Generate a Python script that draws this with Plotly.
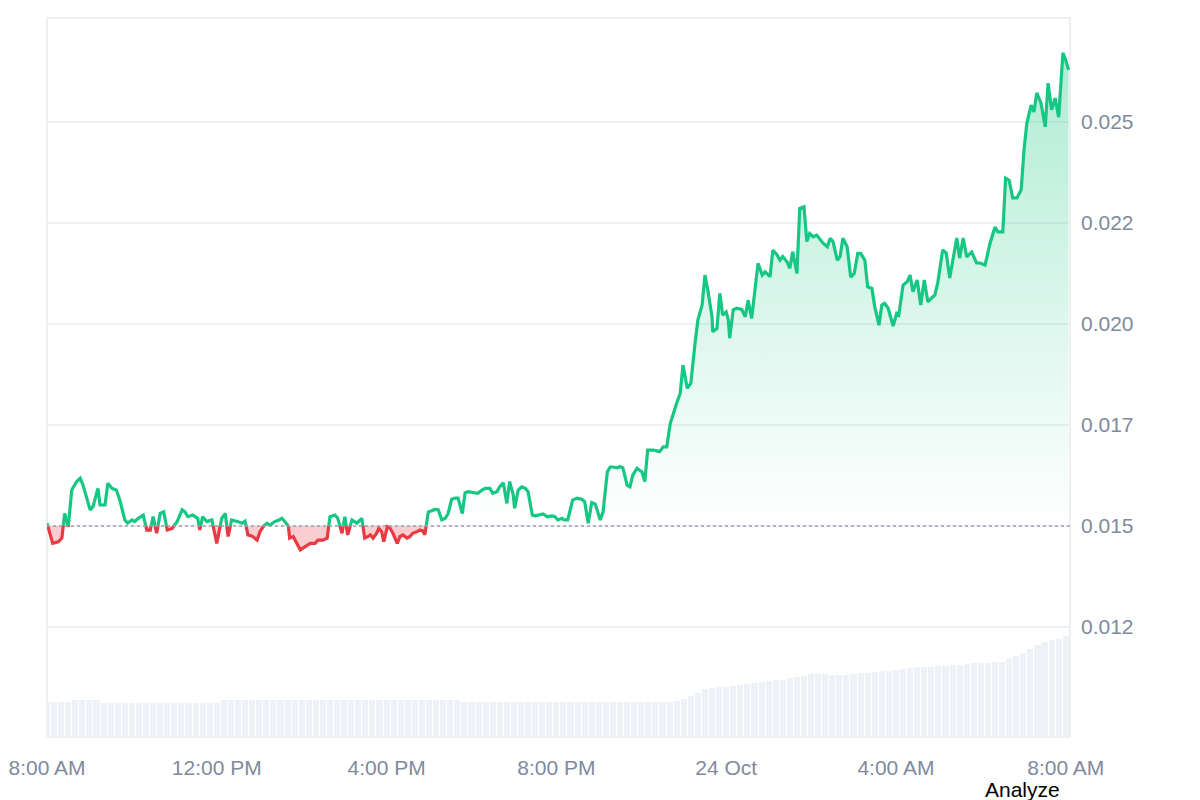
import pandas as pd
import plotly.graph_objects as go

# ---------------- data ----------------
START = "2024-10-23 08:00"

# minutes elapsed since 8:00 AM for each price sample
minutes = [
    0, 8, 16, 21, 25, 30, 35, 42, 47, 51, 58, 61, 65, 72, 75, 82, 86, 92, 98, 103,
    110, 114, 120, 124, 129, 136, 141, 146, 150, 155, 160, 165, 170, 177, 184, 191, 195, 199, 206, 213,
    216, 220, 226, 233, 240, 247, 252, 256, 261, 269, 276, 280, 284, 290, 297, 301, 305, 311, 315, 322,
    328, 332, 336, 341, 343, 348, 353, 358, 365, 372, 379, 383, 390, 396, 400, 407, 411, 417, 421, 425,
    431, 438, 445, 449, 454, 457, 461, 466, 469, 473, 476, 481, 485, 489, 495, 499, 503, 509, 513, 517,
    523, 527, 531, 534, 539, 544, 548, 553, 558, 563, 567, 572, 577, 581, 587, 591, 595, 602, 609, 615,
    619, 626, 630, 636, 640, 645, 650, 654, 659, 661, 666, 671, 676, 680, 686, 690, 697, 701, 707, 714,
    718, 722, 728, 731, 736, 743, 749, 756, 760, 765, 770, 775, 782, 786, 792, 796, 800, 806, 810, 814,
    820, 824, 828, 834, 841, 845, 849, 857, 862, 866, 871, 876, 881, 885, 890, 895, 899, 905, 910, 916,
    920, 926, 930, 934, 940, 941, 947, 951, 955, 960, 963, 965, 970, 975, 982, 987, 991, 996, 998, 1005,
    1011, 1015, 1022, 1026, 1032, 1036, 1040, 1046, 1050, 1054, 1060, 1064, 1070, 1074, 1078, 1083, 1088, 1093, 1097, 1103,
    1107, 1111, 1117, 1121, 1125, 1131, 1136, 1141, 1146, 1150, 1156, 1160, 1166, 1170, 1176, 1180, 1184, 1189, 1196, 1201,
    1204, 1210, 1216, 1220, 1224, 1230, 1235, 1240, 1245, 1255, 1259, 1266, 1271, 1276, 1281, 1286, 1290, 1295, 1300, 1307,
    1314, 1319, 1326, 1333, 1340, 1344, 1351, 1355, 1360, 1365, 1371, 1377, 1381, 1385, 1391, 1395, 1399, 1405, 1411, 1415,
    1420, 1425, 1430, 1436, 1440, 1444,
]

prices = [
    0.01507, 0.01457, 0.01461, 0.01470, 0.01531, 0.01498, 0.01589, 0.01610, 0.01618, 0.01601,
    0.01556, 0.01540, 0.01548, 0.01593, 0.01552, 0.01552, 0.01606, 0.01593, 0.01589, 0.01564,
    0.01515, 0.01507, 0.01515, 0.01511, 0.01519, 0.01527, 0.01490, 0.01490, 0.01523, 0.01482,
    0.01531, 0.01535, 0.01490, 0.01494, 0.01511, 0.01540, 0.01535, 0.01523, 0.01527, 0.01519,
    0.01490, 0.01523, 0.01511, 0.01515, 0.01457, 0.01519, 0.01531, 0.01474, 0.01515, 0.01511,
    0.01507, 0.01512, 0.01478, 0.01475, 0.01465, 0.01486, 0.01498, 0.01507, 0.01502, 0.01511,
    0.01515, 0.01519, 0.01511, 0.01502, 0.01470, 0.01474, 0.01457, 0.01441, 0.01449, 0.01457,
    0.01457, 0.01465, 0.01465, 0.01470, 0.01523, 0.01527, 0.01519, 0.01482, 0.01523, 0.01478,
    0.01515, 0.01507, 0.01519, 0.01470, 0.01474, 0.01478, 0.01470, 0.01482, 0.01494, 0.01486,
    0.01461, 0.01498, 0.01494, 0.01482, 0.01457, 0.01474, 0.01478, 0.01470, 0.01474, 0.01482,
    0.01486, 0.01490, 0.01488, 0.01478, 0.01535, 0.01538, 0.01541, 0.01540, 0.01515, 0.01519,
    0.01531, 0.01566, 0.01569, 0.01569, 0.01531, 0.01582, 0.01585, 0.01583, 0.01581, 0.01589,
    0.01593, 0.01593, 0.01581, 0.01585, 0.01597, 0.01607, 0.01556, 0.01610, 0.01577, 0.01544,
    0.01589, 0.01597, 0.01593, 0.01585, 0.01527, 0.01525, 0.01527, 0.01530, 0.01523, 0.01525,
    0.01523, 0.01515, 0.01519, 0.01515, 0.01515, 0.01564, 0.01569, 0.01566, 0.01560, 0.01507,
    0.01558, 0.01554, 0.01515, 0.01535, 0.01634, 0.01646, 0.01646, 0.01644, 0.01647, 0.01644,
    0.01601, 0.01597, 0.01626, 0.01643, 0.01634, 0.01610, 0.01688, 0.01688, 0.01686, 0.01684,
    0.01696, 0.01696, 0.01754, 0.01779, 0.01804, 0.01828, 0.01898, 0.01841, 0.01853, 0.01952,
    0.02010, 0.02047, 0.02121, 0.02084, 0.02018, 0.01981, 0.01989, 0.02076, 0.02022, 0.02030,
    0.02010, 0.01965, 0.02035, 0.02039, 0.02036, 0.02018, 0.02059, 0.02014, 0.02043, 0.02150,
    0.02121, 0.02129, 0.02117, 0.02183, 0.02171, 0.02158, 0.02167, 0.02154, 0.02138, 0.02179,
    0.02125, 0.02286, 0.02290, 0.02204, 0.02224, 0.02216, 0.02220, 0.02208, 0.02200, 0.02191,
    0.02212, 0.02204, 0.02158, 0.02167, 0.02212, 0.02191, 0.02116, 0.02125, 0.02175, 0.02175,
    0.02158, 0.02092, 0.02088, 0.02043, 0.01997, 0.02047, 0.02051, 0.02039, 0.01995, 0.02026,
    0.02022, 0.02096, 0.02105, 0.02121, 0.02080, 0.02109, 0.02047, 0.02109, 0.02055, 0.02072,
    0.02101, 0.02183, 0.02176, 0.02114, 0.02166, 0.02213, 0.02163, 0.02213, 0.02166, 0.02178,
    0.02151, 0.02151, 0.02146, 0.02200, 0.02240, 0.02228, 0.02228, 0.02361, 0.02356, 0.02312,
    0.02312, 0.02332, 0.02431, 0.02497, 0.02542, 0.02525, 0.02572, 0.02547, 0.02488, 0.02596,
    0.02530, 0.02559, 0.02512, 0.02671, 0.02653, 0.02629,
]

base_price = 0.015  # opening price (dotted reference line)

# volume bars, every 10 minutes (millions)
vol_minutes = list(range(0, 1441, 10))
volumes = [
    3.53, 3.53, 3.53, 3.53, 3.7, 3.7, 3.7, 3.7, 3.45, 3.45,
    3.45, 3.45, 3.45, 3.45, 3.45, 3.45, 3.45, 3.45, 3.45, 3.45,
    3.45, 3.45, 3.45, 3.45, 3.45, 3.7, 3.7, 3.7, 3.7, 3.7,
    3.7, 3.7, 3.7, 3.7, 3.7, 3.7, 3.7, 3.7, 3.7, 3.7,
    3.7, 3.7, 3.7, 3.7, 3.7, 3.7, 3.7, 3.7, 3.7, 3.7,
    3.7, 3.7, 3.7, 3.7, 3.7, 3.7, 3.7, 3.7, 3.7, 3.5,
    3.5, 3.5, 3.5, 3.5, 3.5, 3.5, 3.5, 3.5, 3.5, 3.5,
    3.5, 3.5, 3.5, 3.5, 3.5, 3.5, 3.5, 3.5, 3.5, 3.5,
    3.5, 3.5, 3.5, 3.5, 3.5, 3.5, 3.5, 3.5, 3.5, 3.6,
    3.8, 4.1, 4.4, 4.8, 4.9, 5.0, 5.0, 5.1, 5.2, 5.3,
    5.4, 5.5, 5.6, 5.7, 5.7, 5.9, 6.0, 6.1, 6.3, 6.3,
    6.3, 6.2, 6.2, 6.2, 6.3, 6.4, 6.4, 6.5, 6.6, 6.6,
    6.7, 6.8, 6.9, 7.0, 7.0, 7.0, 7.1, 7.1, 7.2, 7.2,
    7.3, 7.4, 7.4, 7.4, 7.5, 7.5, 7.8, 8.1, 8.4, 8.8,
    9.2, 9.5, 9.7, 9.8, 10.1,
]

y_tick_values = [0.0125, 0.015, 0.0175, 0.020, 0.0225, 0.025]
y_tick_labels = ["0.012", "0.015", "0.017", "0.020", "0.022", "0.025"]
x_tick_minutes = [0, 240, 480, 720, 960, 1200, 1440]
x_tick_labels = ["8:00 AM", "12:00 PM", "4:00 PM", "8:00 PM", "24 Oct", "4:00 AM", "8:00 AM"]

# ---------------- styling ----------------
GREEN = "#16c784"
RED = "#ea3943"
TICK_COLOR = "#808a9d"
FONT = "Liberation Sans, Arial, sans-serif"

t0 = pd.Timestamp(START)
times = [t0 + pd.Timedelta(minutes=m) for m in minutes]
vol_times = [t0 + pd.Timedelta(minutes=m) for m in vol_minutes]
tick_times = [t0 + pd.Timedelta(minutes=m) for m in x_tick_minutes]

# insert the exact crossings of the base line so colours switch cleanly
xs, ys = [], []
for i, (t, p) in enumerate(zip(times, prices)):
    if i:
        tp, pp = times[i - 1], prices[i - 1]
        if (pp - base_price) * (p - base_price) < 0:
            f = (base_price - pp) / (p - pp)
            xs.append(tp + (t - tp) * f)
            ys.append(base_price)
    xs.append(t)
    ys.append(p)

upper = [max(v, base_price) for v in ys]
lower = [min(v, base_price) for v in ys]
green_line = [v if v >= base_price else None for v in ys]
red_line = [v if v <= base_price else None for v in ys]
base_series = [base_price] * len(xs)

fig = go.Figure()

fig.add_trace(go.Bar(
    x=vol_times, y=volumes, yaxis="y",
    width=10 * 60 * 1000 * 0.86,
    marker=dict(color="#eef1f5", line=dict(width=0)),
    hoverinfo="skip", showlegend=False,
))

fig.add_trace(go.Scatter(x=xs, y=base_series, yaxis="y2", mode="lines",
                         line=dict(width=0), hoverinfo="skip", showlegend=False))
fig.add_trace(go.Scatter(
    x=xs, y=upper, yaxis="y2", mode="lines", line=dict(width=0),
    fill="tonexty",
    fillgradient=dict(type="vertical",
                      colorscale=[[0, "rgba(22,199,132,0.0)"], [1, "rgba(22,199,132,0.34)"]],
                      start=base_price, stop=max(prices)),
    hoverinfo="skip", showlegend=False,
))
fig.add_trace(go.Scatter(x=xs, y=base_series, yaxis="y2", mode="lines",
                         line=dict(width=0), hoverinfo="skip", showlegend=False))
fig.add_trace(go.Scatter(
    x=xs, y=lower, yaxis="y2", mode="lines", line=dict(width=0),
    fill="tonexty", fillcolor="rgba(234,57,67,0.25)",
    hoverinfo="skip", showlegend=False,
))
fig.add_trace(go.Scatter(x=xs, y=green_line, yaxis="y2", mode="lines",
                         line=dict(color=GREEN, width=3.2), connectgaps=False,
                         showlegend=False))
fig.add_trace(go.Scatter(x=xs, y=red_line, yaxis="y2", mode="lines",
                         line=dict(color=RED, width=3.2), connectgaps=False,
                         showlegend=False))

fig.update_layout(
    width=1200, height=800,
    margin=dict(l=47, r=130, t=18, b=63, autoexpand=False),
    paper_bgcolor="white", plot_bgcolor="white",
    font=dict(family=FONT, size=21, color=TICK_COLOR),
    hovermode=False,
    bargap=0,
    xaxis=dict(
        type="date", automargin=False,
        range=[t0, t0 + pd.Timedelta(minutes=1446)],
        tickvals=tick_times, ticktext=x_tick_labels,
        showgrid=False, zeroline=False, showline=False, ticks="",
        tickfont=dict(size=21, color=TICK_COLOR, family=FONT),
        ticklabelstandoff=16,
    ),
    yaxis=dict(range=[0, 71.9], visible=False, fixedrange=True, automargin=False),
    yaxis2=dict(
        overlaying="y", side="right", automargin=False,
        range=[0.009777, 0.027574],
        tickvals=y_tick_values, ticktext=y_tick_labels,
        showgrid=True, gridcolor="#eff1f4", gridwidth=1.5,
        zeroline=False, showline=False, ticks="",
        tickfont=dict(size=21, color=TICK_COLOR, family=FONT),
        ticklabelstandoff=10,
    ),
    shapes=[
        dict(type="line", xref="paper", x0=0, x1=1, yref="y2",
             y0=base_price, y1=base_price,
             line=dict(color="#9aa1ac", width=1.5, dash="dot")),
        dict(type="rect", xref="paper", yref="paper", x0=0, x1=1, y0=0, y1=1,
             line=dict(color="#e8eaed", width=1.5), fillcolor="rgba(0,0,0,0)",
             layer="below"),
    ],
    annotations=[
        dict(text="Analyze", xref="paper", yref="paper", x=0.954, y=-0.0737,
             xanchor="center", yanchor="middle", showarrow=False,
             font=dict(family=FONT, size=21, color="black")),
    ],
)

fig.write_html("out.html")
